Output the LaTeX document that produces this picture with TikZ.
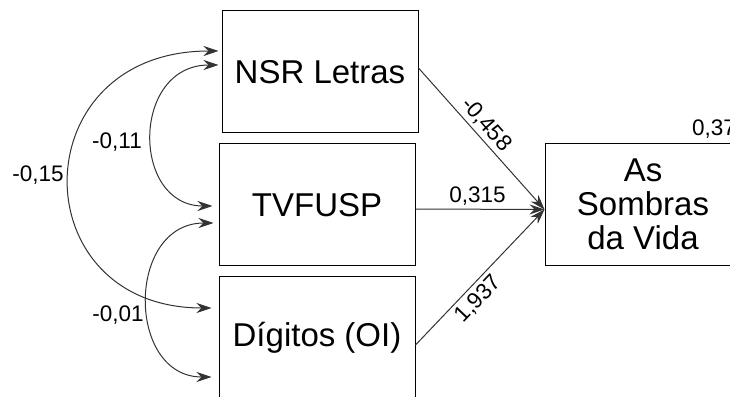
\documentclass[tikz,border=0pt]{standalone}
\usepackage{fontspec}
\setmainfont{Liberation Sans}
\usetikzlibrary{arrows.meta}
\tikzset{
  varbox/.style={draw=black, line width=1pt, minimum width=196pt, minimum height=122pt, inner sep=0pt, align=center, font=\fontsize{33}{34}\selectfont},
  conn/.style={draw=black!80, line width=1pt, -{Stealth[length=15pt,width=10pt,inset=5pt]}},
  bconn/.style={draw=black!80, line width=1pt, {Stealth[length=15pt,width=10pt,inset=5pt]}-{Stealth[length=15pt,width=10pt,inset=5pt]}},
  lbl/.style={font=\fontsize{22.5}{24}\selectfont, inner sep=0pt},
  slbl/.style={font=\fontsize{22.5}{24}\selectfont, sloped, inner sep=3pt}
}
\begin{document}
\begin{tikzpicture}[x=1pt,y=1pt]
\useasboundingbox (0,0) rectangle (730,396);
\clip (0,0) rectangle (730,396);
\node[varbox] (nsr) at (320,324) {NSR Letras};
\node[varbox] (tv) at (317,191) {TVFUSP};
\node[varbox] (dig) at (317,58) {Dígitos (OI)};
\node[varbox] (som) at (643,191.5) {As\\Sombras\\da Vida};
\node[lbl, anchor=base west] (r2) at (692,260) {0,37};

\draw[conn] ([yshift=4pt]nsr.east) -- node[slbl, above, pos=0.46] (l1) {-0,458} ([yshift=-5pt]som.west);
\draw[conn] ([yshift=-4pt]tv.east) -- node[slbl, above, pos=0.48] (l2) {0,315} ([yshift=-5pt]som.west);
\draw[conn] ([yshift=-7pt]dig.east) -- node[slbl, below, pos=0.41, inner sep=4pt] (l3) {1,937} ([yshift=-5pt]som.west);

\draw[bconn, shorten <=3pt, shorten >=7pt] ([yshift=21pt]nsr.west) .. controls (21,345) and (21,88) .. ([yshift=30pt]dig.west);
\draw[bconn, shorten <=3pt, shorten >=6pt] ([yshift=7pt]nsr.west) .. controls (131,331) and (131,190) .. ([yshift=-1pt]tv.west);
\draw[bconn, shorten <=5pt, shorten >=7pt] ([yshift=-18pt]tv.west) .. controls (126,173) and (126,19) .. ([yshift=-39pt]dig.west);

\node[lbl, anchor=base] (c1) at (38,214) {-0,15};
\node[lbl, anchor=base] (c2) at (117,247) {-0,11};
\node[lbl, anchor=base] (c3) at (118,74.3) {-0,01};
\end{tikzpicture}
\end{document}
